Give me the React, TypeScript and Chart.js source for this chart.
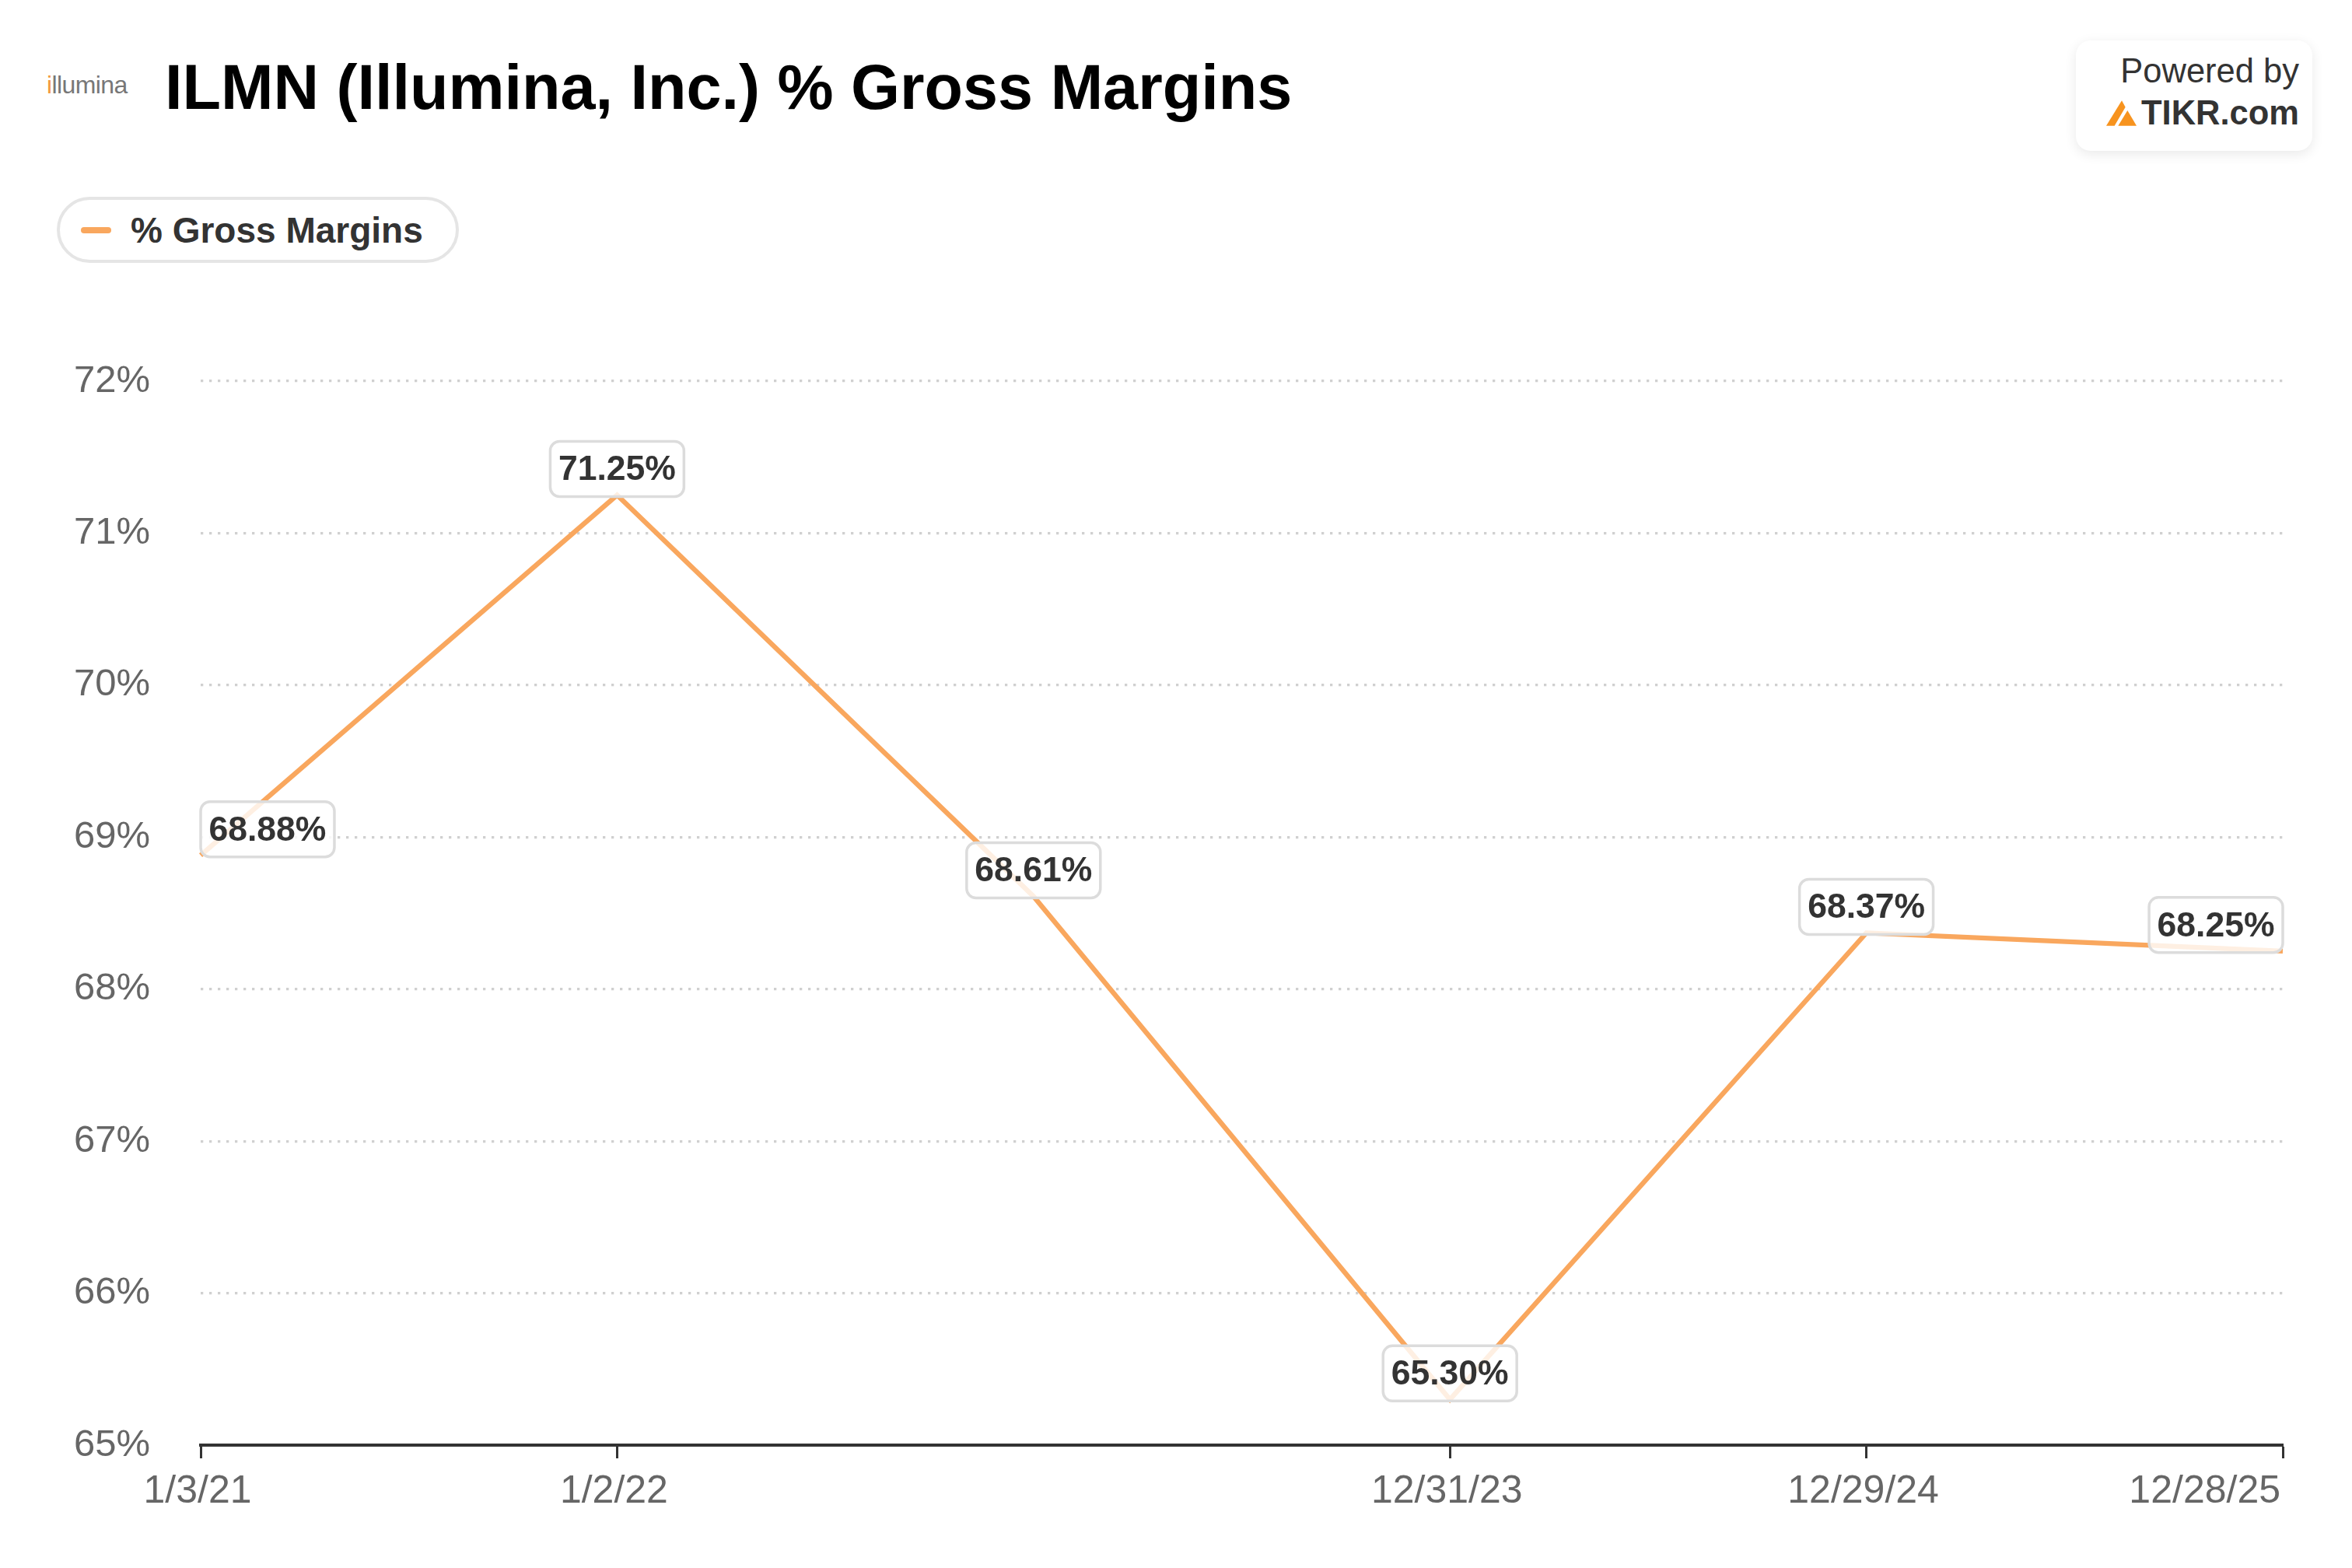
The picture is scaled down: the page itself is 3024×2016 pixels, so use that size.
import { useEffect, useRef } from "react"
import { Chart, registerables, type Plugin } from "chart.js"

Chart.register(...registerables)

// fiscal year ends, % gross margin
const periods = ["1/3/21", "1/2/22", "1/1/23", "12/31/23", "12/29/24", "12/28/25"]
const grossMargins = [68.88, 71.25, 68.61, 65.3, 68.37, 68.25]
const xTickLabels = ["1/3/21", "1/2/22", "12/31/23", "12/29/24", "12/28/25"]
const yMin = 65
const yMax = 72
const yStep = 1

const seriesName = "% Gross Margins"
const title = "ILMN (Illumina, Inc.) % Gross Margins"

const ORANGE = "#F9A75E"
const FONT = '"Liberation Sans", Arial, Helvetica, sans-serif'

// all sizes below are in 3024-wide reference pixels, scaled to the window
const BASE_W = 3024
const BASE_H = 2016
const CANVAS_TOP = 390

function TikrMark({ s }: { s: number }) {
  return (
    <svg width={39 * s} height={33 * s} viewBox="0 0 117 97" style={{ marginRight: 6 * s }}>
      <polygon points="0,97 32,97 74,25 60,0" fill="#F7931E" />
      <polygon points="46,97 117,97 82,38" fill="#F7931E" />
    </svg>
  )
}

export default function App() {
  const canvasRef = useRef<HTMLCanvasElement>(null)
  const s = window.innerWidth / BASE_W

  useEffect(() => {
    if (!canvasRef.current) return
    const ctx = canvasRef.current.getContext("2d")
    if (!ctx) return

    const labelsPlugin: Plugin<"line"> = {
      id: "pointLabels",
      afterDatasetsDraw(chart) {
        const c = chart.ctx
        const area = chart.chartArea
        const meta = chart.getDatasetMeta(0)
        c.save()
        c.font = `bold ${44.5 * s}px ${FONT}`
        meta.data.forEach((pt, i) => {
          const text = `${grossMargins[i].toFixed(2)}%`
          const w = c.measureText(text).width + 21 * s
          const h = 71 * s
          let x = pt.x - w / 2
          x = Math.max(area.left, Math.min(area.right - w, x))
          const y = pt.y - h + 2 * s
          c.beginPath()
          c.roundRect(x, y, w, h, 12 * s)
          c.fillStyle = "rgba(255,255,255,0.82)"
          c.fill()
          c.lineWidth = 3.5 * s
          c.strokeStyle = "#dcdcdc"
          c.stroke()
          c.fillStyle = "#333"
          c.textAlign = "center"
          c.textBaseline = "middle"
          c.fillText(text, x + w / 2, y + h / 2 + 2 * s)
        })
        c.restore()
      },
      afterDraw(chart) {
        const c = chart.ctx
        const xs = chart.scales.x
        c.save()
        c.font = `${50 * s}px ${FONT}`
        c.fillStyle = "#666"
        c.textBaseline = "alphabetic"
        xTickLabels.forEach((lab, k) => {
          const px = xs.getPixelForValue(periods.indexOf(lab))
          c.textAlign = k === xTickLabels.length - 1 ? "right" : "center"
          c.fillText(lab, k === xTickLabels.length - 1 ? px - 3 * s : px - 4 * s, xs.top + 74 * s)
        })
        c.restore()
      },
    }

    const chart = new Chart(ctx, {
      type: "line",
      data: {
        labels: periods,
        datasets: [
          {
            label: seriesName,
            data: grossMargins,
            borderColor: ORANGE,
            borderWidth: 6.3 * s,
            pointRadius: 0,
            pointHoverRadius: 0,
            tension: 0,
            fill: false,
          },
        ],
      },
      options: {
        animation: false,
        responsive: true,
        maintainAspectRatio: false,
        events: [],
        layout: { padding: { top: (490 - CANVAS_TOP) * s, right: 89 * s, left: 0, bottom: 0 } },
        plugins: {
          legend: { display: false },
          tooltip: { enabled: false },
        },
        scales: {
          x: {
            type: "category",
            offset: false,
            grid: {
              display: true,
              drawOnChartArea: false,
              drawTicks: true,
              tickLength: 17 * s,
              tickColor: "#333",
              tickWidth: 3 * s,
            },
            border: { display: true, color: "#333", width: 4 * s },
            ticks: { display: false, autoSkip: false },
            afterBuildTicks: (scale) => {
              scale.ticks = scale.ticks.filter((t) => xTickLabels.includes(periods[t.value]))
            },
            afterFit: (scale) => {
              scale.height = (BASE_H - 1858) * s
            },
          },
          y: {
            min: yMin,
            max: yMax,
            ticks: {
              stepSize: yStep,
              color: "#666",
              font: { family: FONT, size: 49 * s },
              padding: 65 * s,
              callback: (v) => `${v}%`,
            },
            grid: { color: "#d0d0d0", lineWidth: 3.2 * s, drawTicks: false },
            border: { display: false, dash: [3.3 * s, 7.7 * s] },
            afterFit: (scale) => {
              scale.width = 258 * s
            },
          },
        },
      },
      plugins: [labelsPlugin],
    })

    return () => chart.destroy()
  }, [s])

  return (
    <div
      style={{
        position: "absolute",
        left: 0,
        top: 0,
        width: BASE_W * s,
        height: BASE_H * s,
        background: "#fff",
        fontFamily: FONT,
        overflow: "hidden",
      }}
    >
      {/* logo */}
      <div
        style={{
          position: "absolute",
          left: 60 * s,
          top: 91 * s,
          fontSize: 32 * s,
          color: "#777",
          letterSpacing: -0.6 * s,
        }}
      >
        <span style={{ color: "#F39A3C" }}>i</span>llumina
      </div>

      <div
        style={{
          position: "absolute",
          left: 212 * s,
          top: 64 * s,
          fontSize: 81 * s,
          fontWeight: "bold",
          color: "#000",
          lineHeight: 1.2,
          whiteSpace: "nowrap",
        }}
      >
        {title}
      </div>

      {/* powered by box */}
      <div
        style={{
          position: "absolute",
          left: 2669 * s,
          top: 52 * s,
          width: 304 * s,
          height: 142 * s,
          borderRadius: 19 * s,
          background: "#fff",
          boxShadow: `0 ${4 * s}px ${16 * s}px rgba(0,0,0,0.09)`,
        }}
      >
        <div
          style={{
            position: "absolute",
            right: 17 * s,
            top: 15 * s,
            fontSize: 43.5 * s,
            color: "#333",
            whiteSpace: "nowrap",
          }}
        >
          Powered by
        </div>
        <div
          style={{
            position: "absolute",
            right: 17 * s,
            top: 69 * s,
            fontSize: 43.5 * s,
            fontWeight: "bold",
            color: "#333",
            whiteSpace: "nowrap",
            display: "flex",
            alignItems: "center",
          }}
        >
          <TikrMark s={s} />
          TIKR.com
        </div>
      </div>

      {/* legend pill */}
      <div
        style={{
          position: "absolute",
          left: 73 * s,
          top: 253 * s,
          height: 85 * s,
          padding: `0 ${27 * s}px`,
          border: `${4 * s}px solid #e5e5e5`,
          borderRadius: 46 * s,
          display: "flex",
          alignItems: "center",
          boxSizing: "border-box",
          width: 517 * s,
        }}
      >
        <span
          style={{
            display: "inline-block",
            width: 39 * s,
            height: 8 * s,
            borderRadius: 4 * s,
            background: ORANGE,
            marginRight: 25 * s,
          }}
        />
        <span style={{ fontSize: 46 * s, fontWeight: "bold", color: "#333", whiteSpace: "nowrap" }}>
          {seriesName}
        </span>
      </div>

      <div
        style={{
          position: "absolute",
          left: 0,
          top: CANVAS_TOP * s,
          width: BASE_W * s,
          height: (BASE_H - CANVAS_TOP) * s,
        }}
      >
        <canvas ref={canvasRef} />
      </div>
    </div>
  )
}
